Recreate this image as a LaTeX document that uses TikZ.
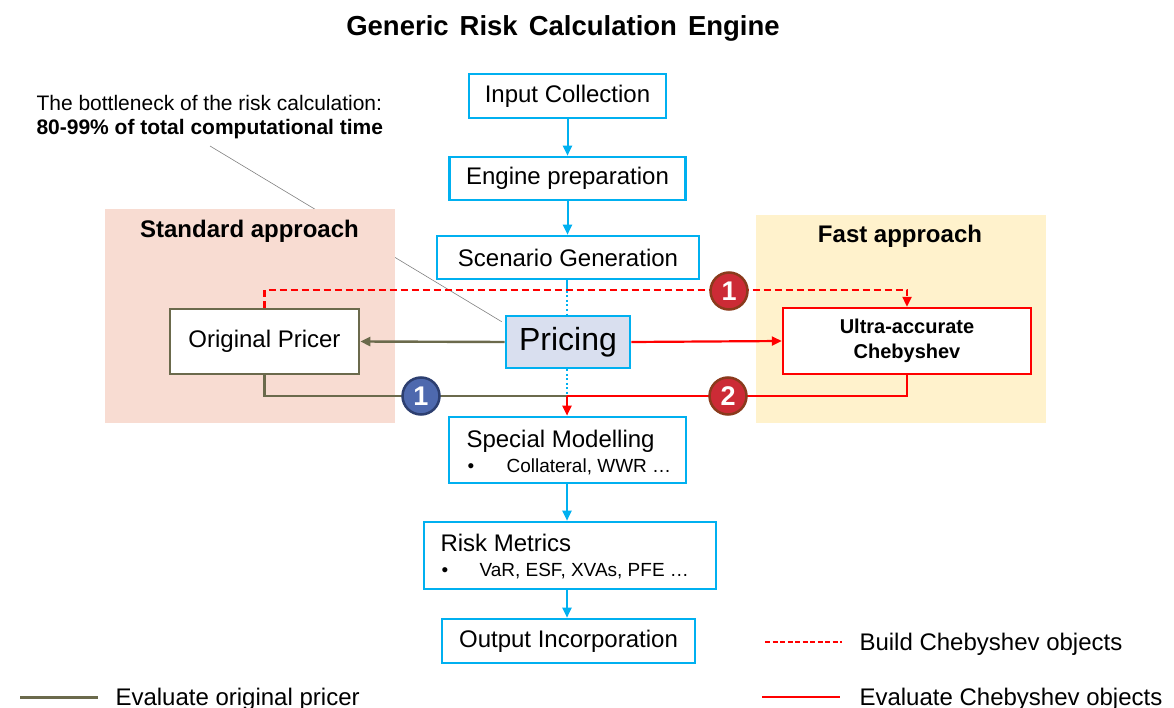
\documentclass[tikz,border=0pt]{standalone}
\usepackage{fontspec}
\setmainfont{Liberation Sans}
\usetikzlibrary{arrows.meta,calc}
\definecolor{cy}{HTML}{00B0F0}
\definecolor{prfill}{HTML}{D9DFEF}
\definecolor{stdfill}{HTML}{F8DCD2}
\definecolor{fastfill}{HTML}{FFF2CC}
\definecolor{oliv}{HTML}{6B6A4C}
\definecolor{rd}{HTML}{FF0000}
\definecolor{bluefill}{HTML}{4E69AE}
\definecolor{blueedge}{HTML}{2D3F70}
\definecolor{redfill}{HTML}{CC2B36}
\definecolor{rededge}{HTML}{8A3A1C}
\begin{document}
\begin{tikzpicture}[x=1pt,y=-1pt,
  box/.style={draw=cy, line width=2.6pt, fill=white, inner sep=0pt, font=\fontsize{24}{28}\selectfont},
  flow/.style={cy, line width=2pt, -{Triangle[length=10pt,width=9pt]}},
  olivarrow/.style={oliv, line width=2.4pt, -{Triangle[length=10pt,width=9pt]}},
  redarrow/.style={rd, line width=2.2pt, -{Triangle[length=10pt,width=9pt]}},
  numcirc/.style={circle, minimum size=37pt, inner sep=0pt, line width=2.5pt, text=white, font=\fontsize{27}{28}\selectfont\bfseries},
  boxtitle/.style={font=\fontsize{24}{28}\selectfont\bfseries},
  legtext/.style={anchor=base west, font=\fontsize{24}{28}\selectfont},
  subtext/.style={anchor=base west, font=\fontsize{19}{22}\selectfont},
  maintext/.style={anchor=base west, font=\fontsize{24}{28}\selectfont},
  notetext/.style={anchor=west, font=\fontsize{21}{24}\selectfont}
]
\useasboundingbox (0,0) rectangle (1174,708);

% title
\node[font=\fontsize{27.5}{30}\selectfont\bfseries, execute at begin node={\spaceskip=0.4em plus 0.1em}] (title) at (563,28) {Generic Risk Calculation Engine};

% annotation
\node[notetext] (note1) at (33,103) {The bottleneck of the risk calculation:};
\node[notetext, font=\fontsize{21}{24}\selectfont\bfseries] (note2) at (33,129) {80-99\% of total computational time};
\coordinate (ns) at (210,146);

% pricing box first (for annotation line end)
\node[box, fill=prfill, minimum width=124pt, minimum height=52pt, font=\fontsize{32}{36}\selectfont] (pr) at (568,342) {Pricing};
\draw[gray, line width=0.6pt] (ns) -- ($(pr.north west)+(-3,7)$);

% background approach areas
\node[fill=stdfill, inner sep=0pt, minimum width=290pt, minimum height=214pt] (std) at (250,316) {};
\node[fill=fastfill, inner sep=0pt, minimum width=290pt, minimum height=208pt] (fast) at (901,319) {};
\node[boxtitle] (stdt) at (249.5,231) {Standard approach};
\node[boxtitle] (fastt) at (900,236) {Fast approach};

% flow boxes
\node[box, minimum width=197pt, minimum height=44pt] (in) at (567.5,96) {Input Collection};
\node[box, minimum width=236pt, minimum height=43pt] (eng) at (567.5,178.5) {Engine preparation};
\node[box, minimum width=262pt, minimum height=43pt] (scen) at (568,257.5) {Scenario Generation};
\node[box, minimum width=237pt, minimum height=66pt] (sm) at (567.5,450) {};
\node[box, minimum width=292pt, minimum height=67pt] (rm) at (570,555.5) {};
\node[box, minimum width=253pt, minimum height=44pt] (out) at (568.5,641) {Output Incorporation};

\node[maintext] (smt) at (463,447) {Special Modelling};
\node[subtext] (smb) at (464,472) {•};
\node[subtext] (sms) at (503,472) {Collateral, WWR …};
\node[maintext] (rmt) at (437,551) {Risk Metrics};
\node[subtext] (rmb) at (438,576) {•};
\node[subtext] (rms) at (476,576) {VaR, ESF, XVAs, PFE …};

% pricer boxes
\node[draw=oliv, line width=2.6pt, fill=white, minimum width=189pt, minimum height=65pt, inner sep=0pt, font=\fontsize{24}{28}\selectfont] (op) at (264.5,341.5) {Original Pricer};
\node[draw=rd, line width=2.4pt, fill=white, minimum width=248pt, minimum height=66pt, inner sep=0pt, align=center, font=\fontsize{20}{25}\selectfont\bfseries] (cheb) at (907,341) {Ultra-accurate\\Chebyshev};

% cyan flow
\draw[flow] (in.south) -- (in.south |- eng.north);
\draw[flow] (eng.south) -- (eng.south |- scen.north);
\coordinate (dashy) at (567,291);
\coordinate (join) at (567,396);
\draw[cy, line width=2pt] (scen.south -| dashy) -- (dashy);
\draw[cy, line width=2pt, dash pattern=on 2pt off 2.5pt] (dashy) -- (pr.north -| dashy);
\draw[cy, line width=2pt, dash pattern=on 2pt off 2.5pt] (pr.south -| join) -- (join);
\draw[flow] (sm.south -| join) -- (rm.north -| join);
\draw[flow] (rm.south -| join) -- (out.north -| join);

% build chebyshev (dashed)
\draw[rd, line width=2.2pt, dash pattern=on 7pt off 4pt, -{Triangle[length=10pt,width=9pt]}] (op.north) -- ++(0,-18) -| (cheb.north);

% evaluations
\draw[olivarrow] (pr.west) -- (op.east);
\draw[redarrow] (pr.east) -- (cheb.west);
\draw[oliv, line width=2.4pt] (op.south) |- (join);
\draw[rd, line width=2.2pt] (cheb.south) |- (join);
\draw[redarrow] (join) -- (sm.north -| join);

% numbered circles
\node[numcirc, fill=redfill, draw=rededge] (c1r) at (729,291) {1};
\node[numcirc, fill=bluefill, draw=blueedge] (c1b) at (421,396) {1};
\node[numcirc, fill=redfill, draw=rededge] (c2r) at (728,396) {2};

% legend
\coordinate (l1a) at (765,642); \coordinate (l1b) at (842,642);
\coordinate (l2a) at (762,697); \coordinate (l2b) at (840,697);
\coordinate (l3a) at (20,697); \coordinate (l3b) at (98,697);
\draw[rd, line width=2.2pt, dash pattern=on 5pt off 2.5pt] (l1a) -- (l1b);
\draw[rd, line width=2.4pt] (l2a) -- (l2b);
\draw[oliv, line width=3pt] (l3a) -- (l3b);
\node[legtext] (lt1) at (856,650) {Build Chebyshev objects};
\node[legtext] (lt2) at (856,705) {Evaluate Chebyshev objects};
\node[legtext] (lt3) at (112,705) {Evaluate original pricer};
\end{tikzpicture}
\end{document}
